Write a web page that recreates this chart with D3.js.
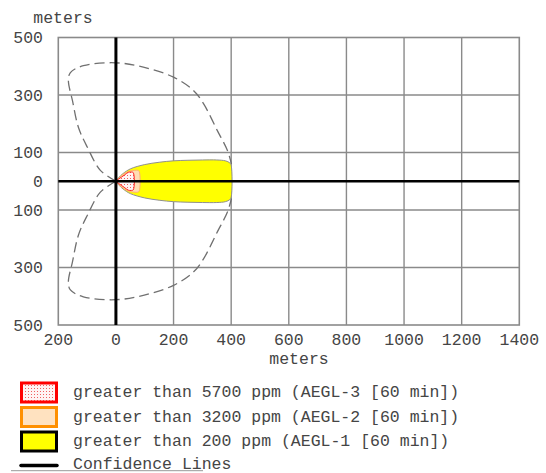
<!DOCTYPE html>
<html><head><meta charset="utf-8">
<script src="https://cdn.jsdelivr.net/npm/d3@7"></script>
<style>
html,body{margin:0;padding:0;background:#fff;}
svg{display:block;}
text{font-family:"Liberation Mono","Courier New",monospace;fill:#454545;}
</style></head>
<body>
<svg id="c" width="546" height="473"></svg>
<script>
// ---- data ----
const xTicks = [-200, 0, 200, 400, 600, 800, 1000, 1200, 1400];
const yTicks = [500, 300, 100, 0, -100, -300, -500];
// AEGL-1 zone (upper half; mirrored below the centre line)
const aegl1X = [0, 10, 25, 50, 100, 150, 200, 250, 300, 350, 380, 395, 400];
const aegl1Y = [0, 13, 27, 43, 58, 66, 71, 73, 74, 74, 71, 64, 55];
// AEGL-2 zone
const aegl2X = [0, 10, 20, 35, 50, 65, 76, 81];
const aegl2Y = [0, 11, 20, 30, 36, 38, 38, 34];
// AEGL-3 zone
const aegl3X = [0, 10, 20, 30, 43, 52, 60];
const aegl3Y = [0, 8, 15, 22, 31, 32, 30];
// confidence line (upper half; mirrored)
const confX = [0, -54, -99, -130, -151, -165, -158, -113, 0, 95, 200, 269, 304, 352, 387, 401];
const confY = [0, 38, 118, 187, 281, 351, 378, 402, 412, 397, 362, 316, 270, 176, 107, 60];
const legendLabels = [
  "greater than 5700 ppm (AEGL-3 [60 min])",
  "greater than 3200 ppm (AEGL-2 [60 min])",
  "greater than 200 ppm (AEGL-1 [60 min])",
  "Confidence Lines"
];

// ---- layout ----
const L = 58.3, R = 519.3, T = 37.5, B = 325;
const svg = d3.select("#c");
const x = d3.scaleLinear().domain([-200, 1400]).range([L, R]);
const y = d3.scaleLinear().domain([-500, 500]).range([B, T]);
const FS = "16.5px";

const defs = svg.append("defs");
const pat = defs.append("pattern").attr("id", "dots").attr("patternUnits", "userSpaceOnUse")
  .attr("width", 3).attr("height", 3);
pat.append("rect").attr("width", 3).attr("height", 3).attr("fill", "#fff4f4");
pat.append("rect").attr("x", 1).attr("y", 1).attr("width", 1).attr("height", 1).attr("fill", "#f06060");
defs.append("clipPath").attr("id", "clip").append("rect")
  .attr("x", L).attr("y", T).attr("width", R - L).attr("height", B - T);

// grid
const g = svg.append("g");
g.selectAll("line.vx").data(xTicks.filter(d => d !== 0 && d !== -200 && d !== 1400)).enter().append("line")
  .attr("x1", d => x(d)).attr("x2", d => x(d)).attr("y1", T).attr("y2", B)
  .attr("stroke", "#8a8a8a").attr("stroke-width", 1.4);
g.selectAll("line.hy").data(yTicks.filter(d => Math.abs(d) !== 500 && d !== 0)).enter().append("line")
  .attr("x1", L).attr("x2", R).attr("y1", d => y(d)).attr("y2", d => y(d))
  .attr("stroke", "#8a8a8a").attr("stroke-width", 1.4);
g.append("rect").attr("x", L).attr("y", T).attr("width", R - L).attr("height", B - T)
  .attr("fill", "none").attr("stroke", "#8a8a8a").attr("stroke-width", 1.6);

// shapes
function zone(xs, ys) {
  const top = xs.map((v, i) => [v, ys[i]]);
  const bot = xs.map((v, i) => [v, -ys[i]]).reverse();
  return top.concat(bot);
}
const line = d3.line().x(d => x(d[0])).y(d => y(d[1])).curve(d3.curveCatmullRom.alpha(0.5));
const plot = svg.append("g").attr("clip-path", "url(#clip)");

const confTop = confX.map((v, i) => [v, confY[i]]);
const confBot = confX.map((v, i) => [v, -confY[i]]);
[confTop, confBot].forEach(p => plot.append("path").attr("d", line(p))
  .attr("fill", "none").attr("stroke", "#707070").attr("stroke-width", 1.3)
  .attr("stroke-dasharray", "10,5"));

plot.append("path").attr("d", line(zone(aegl1X, aegl1Y)) + "Z")
  .attr("fill", "#ffff00").attr("stroke", "#909090").attr("stroke-width", 1);
plot.append("path").attr("d", line(zone(aegl2X, aegl2Y)) + "Z")
  .attr("fill", "#ffdcb4").attr("stroke", "#ffb070").attr("stroke-width", 1);
plot.append("path").attr("d", line(zone(aegl3X, aegl3Y)) + "Z")
  .attr("fill", "url(#dots)").attr("stroke", "#ff2020").attr("stroke-width", 1);

// zero axes
svg.append("line").attr("x1", L).attr("x2", R).attr("y1", y(0)).attr("y2", y(0))
  .attr("stroke", "#000").attr("stroke-width", 2.4);
svg.append("line").attr("x1", x(0)).attr("x2", x(0)).attr("y1", T).attr("y2", B)
  .attr("stroke", "#000").attr("stroke-width", 3);

// tick labels
svg.selectAll("text.xt").data(xTicks).enter().append("text")
  .attr("x", d => x(d)).attr("y", 339).attr("dy", "0.35em").attr("text-anchor", "middle")
  .style("font-size", FS).text(d => Math.abs(d));
svg.selectAll("text.yt").data(yTicks).enter().append("text")
  .attr("x", 43).attr("y", d => y(d)).attr("dy", "0.35em").attr("text-anchor", "end")
  .style("font-size", FS).text(d => Math.abs(d));
svg.append("text").attr("x", 299).attr("y", 358).attr("dy", "0.35em").attr("text-anchor", "middle")
  .style("font-size", FS).text("meters");
svg.append("text").attr("x", 63).attr("y", 17).attr("dy", "0.35em").attr("text-anchor", "middle")
  .style("font-size", FS).text("meters");

// legend
const lg = svg.append("g");
const boxes = [
  {fill: "url(#dots)", stroke: "#ff0000"},
  {fill: "#ffe2c0", stroke: "#ff9000"},
  {fill: "#ffff00", stroke: "#000000"}
];
const rowY = [392.5, 417, 441.5, 465.5];
boxes.forEach((b, i) => {
  lg.append("rect").attr("x", 21.5).attr("y", rowY[i] - 9.5).attr("width", 35).attr("height", 19)
    .attr("fill", b.fill).attr("stroke", b.stroke).attr("stroke-width", 3);
});
lg.append("line").attr("x1", 21).attr("x2", 57).attr("y1", rowY[3]).attr("y2", rowY[3])
  .attr("stroke", "#000").attr("stroke-width", 3.5).attr("stroke-linecap", "round");
lg.selectAll("text").data(legendLabels).enter().append("text")
  .attr("x", 73).attr("y", (d, i) => rowY[i] - (i === 3 ? 2 : 1)).attr("dy", "0.35em")
  .style("font-size", FS).text(d => d);
lg.append("line").attr("x1", 11).attr("x2", 203).attr("y1", 470.7).attr("y2", 470.7)
  .attr("stroke", "#999").attr("stroke-width", 1);
</script>
</body></html>
